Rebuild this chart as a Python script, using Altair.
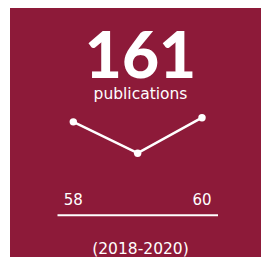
import altair as alt
import pandas as pd

# data
years = [2018, 2019, 2020]
counts = [58, 43, 60]
label_text = "publications"
period = "(2018-2020)"

BG = "#8D1A39"
FG = "#FFFFFF"
W, H = 253, 249

df = pd.DataFrame({"year": years, "count": counts})
ends = df[df["year"].isin([years[0], years[-1]])]
one = pd.DataFrame({"k": [0]})

xs = alt.Scale(domain=[2016.985, 2020.917])
ys = alt.Scale(domain=[-6.72, 112.53])

bg = alt.Chart(one).mark_rect(color=BG).encode(
    x=alt.value(2), x2=alt.value(W), y=alt.value(0), y2=alt.value(H)
)

total = alt.Chart(df).transform_aggregate(total="sum(count)").mark_text(
    font="Lato", fontWeight=900, fontSize=64,
    color=FG, align="center", baseline="alphabetic"
).encode(text="total:Q", x=alt.value(132.5), y=alt.value(69.5))

sub = alt.Chart(one).mark_text(
    text=label_text, font="DejaVu Sans", fontSize=15.5,
    color=FG, align="center", baseline="alphabetic"
).encode(x=alt.value(132.5), y=alt.value(90.5))

line = alt.Chart(df).mark_line(color=FG, strokeWidth=2.5).encode(
    x=alt.X("year:Q", scale=xs, axis=None),
    y=alt.Y("count:Q", scale=ys, axis=None),
)
pts = alt.Chart(df).mark_circle(color=FG, opacity=1, size=55).encode(
    x=alt.X("year:Q", scale=xs, axis=None),
    y=alt.Y("count:Q", scale=ys, axis=None),
)

vals = alt.Chart(ends).mark_text(
    font="DejaVu Sans", fontSize=15, color=FG,
    align="center", baseline="alphabetic"
).encode(
    x=alt.X("year:Q", scale=xs, axis=None),
    y=alt.value(197.3),
    text="count:Q",
)

rule = alt.Chart(one).mark_rule(color=FG, strokeWidth=2).encode(
    x=alt.value(49.5), x2=alt.value(210), y=alt.value(207.3)
)

per = alt.Chart(one).mark_text(
    text=period, font="DejaVu Sans", fontSize=15.5,
    color=FG, align="center", baseline="alphabetic"
).encode(x=alt.value(132.5), y=alt.value(246))

chart = alt.layer(bg, total, sub, line, pts, vals, rule, per).properties(
    width=W, height=H, padding=0, autosize=alt.AutoSizeParams(type="none"),
    background="white",
).configure_view(stroke=None)

chart.save("out.html", embed_options={"renderer": "svg", "actions": False})
